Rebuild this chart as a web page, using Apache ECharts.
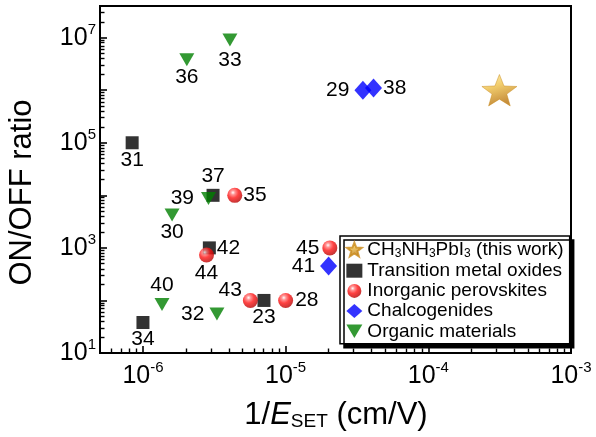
<!DOCTYPE html>
<html><head><meta charset="utf-8">
<script src="https://cdn.jsdelivr.net/npm/echarts@6/dist/echarts.min.js"></script>
<style>html,body{margin:0;padding:0;background:#fff}#c{width:596px;height:437px}</style>
</head><body><div id="c"></div>
<script>
// ---------------- data ----------------
const xRange = [5e-7, 1e-3];
const yRange = [10, 4e7];
const xLabelExponents = [-6, -5, -4, -3];
const yLabelExponents = [1, 3, 5, 7];

const seriesNames = ['CH3NH3PbI3 (this work)', 'Transition metal oxides', 'Inorganic perovskites', 'Chalcogenides', 'Organic materials'];

const thisWorkRefs = [''];
const thisWorkX = [3.15e-4];
const thisWorkY = [1e6];

const tmoRefs = ['31', '37', '42', '34', '23'];
const tmoX = [8.4e-7, 3.1e-6, 2.92e-6, 1.0e-6, 7.05e-6];
const tmoY = [1e5, 1e4, 1e3, 38, 100];

const perovRefs = ['35', '44', '43', '28', '45'];
const perovX = [4.4e-6, 2.79e-6, 5.66e-6, 1.0e-5, 2.04e-5];
const perovY = [1e4, 730, 100, 100, 1e3];

const chalcRefs = ['29', '38', '41'];
const chalcX = [3.48e-5, 4.13e-5, 2.0e-5];
const chalcY = [1e6, 1.1e6, 450];

const orgRefs = ['33', '36', '39', '30', '40', '32'];
const orgX = [4.07e-6, 2.03e-6, 2.88e-6, 1.6e-6, 1.36e-6, 3.3e-6];
const orgY = [9e6, 3.8e6, 8.7e3, 4.2e3, 84, 55];

// ---------------- styles / layout ----------------
const FONT = '"Liberation Sans", Arial, sans-serif';
const TXT = '#000';
const labelPlace = {
  '31': ['bottom', 0], '37': ['top', 2], '42': ['right', 1], '34': ['bottom', 0], '23': ['bottom', 0],
  '35': ['right', 1], '44': ['bottom', 0], '43': ['left', 1, [0, -10]], '28': ['right', 2], '45': ['left', 3],
  '29': ['left', 5], '38': ['right', 1], '41': ['left', 5],
  '33': ['bottom', 3], '36': ['bottom', 0], '39': ['left', 7], '30': ['bottom', 0], '40': ['top', 2], '32': ['left', 5]
};

function points(xs, ys, refs) {
  return xs.map((x, i) => {
    const p = labelPlace[refs[i]];
    const item = { value: [x, ys[i]], name: refs[i] };
    if (p) {
      item.label = { show: true, position: p[0], distance: p[1] };
      if (p[2]) item.label.offset = p[2];
    } else {
      item.label = { show: false };
    }
    return item;
  });
}

function minorTicks(lo, hi) {
  const out = [];
  const a = Math.log10(lo), b = Math.log10(hi);
  for (let n = Math.floor(a) - 1; n <= Math.ceil(b); n++) {
    for (let k = 2; k <= 9; k++) {
      const v = Math.log10(k) + n;
      if (v > a + 1e-9 && v < b - 1e-9) out.push(v);
    }
  }
  return out;
}

function expLabel(allowed) {
  return function (v) {
    const l = Math.log10(v);
    const e = Math.round(l);
    if (Math.abs(l - e) > 0.01 || allowed.indexOf(e) < 0) return '';
    return '{b|10}{s|' + e + '}';
  };
}

const tickRich = {
  b: { fontSize: 25, lineHeight: 30, fontFamily: FONT, color: TXT },
  s: { fontSize: 15, lineHeight: 30, padding: [0, 0, 16, 0], fontFamily: FONT, color: TXT }
};

const starPath = 'path://M50,0 L62.34,33.01 L97.55,34.55 L69.97,56.49 L79.39,90.45 L50,71 L20.61,90.45 L30.03,56.49 L2.45,34.55 L37.66,33.01 Z';
const downTriPath = 'path://M0,0 L20,0 L10,17 Z';

const sphereFill = {
  type: 'radial', x: 0.38, y: 0.32, r: 0.72,
  colorStops: [
    { offset: 0, color: '#ffffff' }, { offset: 0.2, color: '#ff7a7a' },
    { offset: 0.5, color: '#ff1414' }, { offset: 1, color: '#b00000' }
  ]
};
const starFill = {
  type: 'linear', x: 0, y: 0, x2: 0.3, y2: 1,
  colorStops: [
    { offset: 0, color: '#fff1a0' }, { offset: 0.45, color: '#eec048' }, { offset: 1, color: '#b8720c' }
  ]
};

const labelStyle = { formatter: '{b}', fontSize: 21, color: TXT, fontFamily: FONT, opacity: 1 };

const chart = echarts.init(document.getElementById('c'), null, { renderer: 'canvas' });
chart.setOption({
  animation: false,
  backgroundColor: '#fff',
  grid: { left: 100, right: 25, top: 6, bottom: 84, show: true, borderColor: '#000', borderWidth: 2 },
  xAxis: [
    {
      type: 'log', logBase: 10, min: xRange[0], max: xRange[1], position: 'bottom',
      axisLine: { show: true, lineStyle: { color: '#000', width: 2 } },
      axisTick: { show: true, inside: true, length: 7, lineStyle: { color: '#000', width: 1.6 } },
      axisLabel: { margin: 8, formatter: expLabel(xLabelExponents), rich: tickRich },
      splitLine: { show: false }, minorTick: { show: false }
    },
    {
      type: 'value', position: 'bottom', min: Math.log10(xRange[0]), max: Math.log10(xRange[1]), silent: true,
      axisLine: { show: false }, axisLabel: { show: false }, splitLine: { show: false },
      axisTick: { show: true, inside: true, length: 4.5, customValues: minorTicks(xRange[0], xRange[1]), lineStyle: { color: '#000', width: 1.4 } }
    }
  ],
  yAxis: [
    {
      type: 'log', logBase: 10, min: yRange[0], max: yRange[1], position: 'left',
      axisLine: { show: true, lineStyle: { color: '#000', width: 2 } },
      axisTick: { show: true, inside: true, length: 7, lineStyle: { color: '#000', width: 1.6 } },
      axisLabel: { margin: 4, formatter: expLabel(yLabelExponents), rich: tickRich },
      splitLine: { show: false }, minorTick: { show: false }
    },
    {
      type: 'value', position: 'left', min: Math.log10(yRange[0]), max: Math.log10(yRange[1]), silent: true,
      axisLine: { show: false }, axisLabel: { show: false }, splitLine: { show: false },
      axisTick: { show: true, inside: true, length: 4.5, customValues: minorTicks(yRange[0], yRange[1]), lineStyle: { color: '#000', width: 1.4 } }
    }
  ],
  legend: {
    orient: 'vertical', left: 340, top: 236, itemWidth: 16, itemHeight: 14, itemGap: 1.2,
    padding: [3, 6, 3, 6], borderColor: '#000', borderWidth: 1.5, backgroundColor: '#fff',
    shadowColor: '#000', shadowBlur: 0, shadowOffsetX: 4, shadowOffsetY: 4,
    selectedMode: false,
    data: [
      { name: seriesNames[0] },
      { name: seriesNames[1] },
      { name: seriesNames[2] },
      { name: seriesNames[3] },
      { name: seriesNames[4], icon: downTriPath }
    ],
    formatter: function (name) {
      if (name === seriesNames[0]) {
        return '{n|CH}{sub|3}{n|NH}{sub|3}{n|PbI}{sub|3}{n| (this work)}';
      }
      return '{n|' + name + '}';
    },
    textStyle: {
      fontSize: 19, fontFamily: FONT, color: TXT, lineHeight: 19,
      rich: {
        n: { fontSize: 19, lineHeight: 19, fontFamily: FONT, color: TXT },
        sub: { fontSize: 12, lineHeight: 19, padding: [9, 0, 0, 0], fontFamily: FONT, color: TXT }
      }
    }
  },
  graphic: [
    {
      type: 'text', x: 22, y: 192.5, rotation: Math.PI / 2, silent: true,
      style: { text: 'ON/OFF ratio', fontSize: 31, fontFamily: FONT, fill: TXT, align: 'center', verticalAlign: 'middle' }
    },
    {
      type: 'text', x: 336, y: 415, silent: true,
      style: {
        text: '{n|1/}{i|E}{sub|SET}{n| (cm/V)}', align: 'center', verticalAlign: 'middle',
        rich: {
          n: { fontSize: 31, lineHeight: 34, fontFamily: FONT, fill: TXT },
          i: { fontSize: 31, lineHeight: 34, fontStyle: 'italic', fontFamily: FONT, fill: TXT },
          sub: { fontSize: 19, lineHeight: 34, padding: [13, 0, 0, 0], fontFamily: FONT, fill: TXT }
        }
      }
    }
  ],
  series: [
    {
      type: 'scatter', name: seriesNames[1], xAxisIndex: 0, yAxisIndex: 0,
      symbol: 'rect', symbolSize: 13, itemStyle: { color: '#000' },
      label: labelStyle, data: points(tmoX, tmoY, tmoRefs)
    },
    {
      type: 'scatter', name: seriesNames[2], xAxisIndex: 0, yAxisIndex: 0,
      symbol: 'circle', symbolSize: 15, itemStyle: { color: sphereFill },
      label: labelStyle, data: points(perovX, perovY, perovRefs)
    },
    {
      type: 'scatter', name: seriesNames[3], xAxisIndex: 0, yAxisIndex: 0,
      symbol: 'diamond', symbolSize: [17, 19], itemStyle: { color: '#0000ff' },
      label: labelStyle, data: points(chalcX, chalcY, chalcRefs)
    },
    {
      type: 'scatter', name: seriesNames[4], xAxisIndex: 0, yAxisIndex: 0,
      symbol: 'triangle', symbolRotate: 180, symbolSize: [15, 13], itemStyle: { color: '#008000' },
      label: labelStyle, data: points(orgX, orgY, orgRefs)
    },
    {
      type: 'scatter', name: seriesNames[0], xAxisIndex: 0, yAxisIndex: 0,
      symbol: starPath, symbolSize: [35, 33], symbolKeepAspect: true,
      itemStyle: { color: starFill, borderColor: '#c98a1a', borderWidth: 0.6 },
      label: labelStyle, data: points(thisWorkX, thisWorkY, thisWorkRefs)
    }
  ]
});
</script>
</body></html>
